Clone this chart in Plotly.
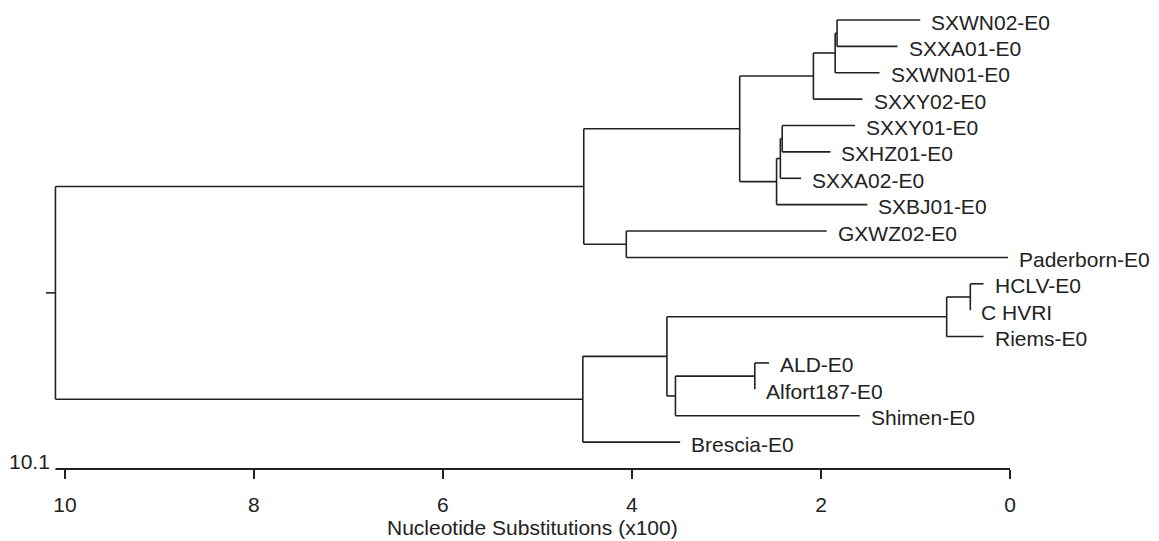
import plotly.graph_objects as go

# ---------------- data ----------------
leaf_names = ["SXWN02-E0", "SXXA01-E0", "SXWN01-E0", "SXXY02-E0", "SXXY01-E0",
              "SXHZ01-E0", "SXXA02-E0", "SXBJ01-E0", "GXWZ02-E0", "Paderborn-E0",
              "HCLV-E0", "C HVRI", "Riems-E0", "ALD-E0", "Alfort187-E0",
              "Shimen-E0", "Brescia-E0"]
leaf_x = [0.95, 1.19, 1.38, 1.56, 1.64, 1.90, 2.21, 1.51, 1.94, 0.02,
          0.28, 0.42, 0.28, 2.55, 2.70, 1.59, 3.49]

node_names = ["n1", "n2", "n3", "n4", "n5", "n6", "n7", "n8", "n9",
              "n10", "n11", "n12", "n13", "n14", "n15", "root"]
node_children = [
    ("SXWN02-E0", "SXXA01-E0"),
    ("n1", "SXWN01-E0"),
    ("n2", "SXXY02-E0"),
    ("SXXY01-E0", "SXHZ01-E0"),
    ("n4", "SXXA02-E0"),
    ("n5", "SXBJ01-E0"),
    ("n3", "n6"),
    ("GXWZ02-E0", "Paderborn-E0"),
    ("n7", "n8"),
    ("HCLV-E0", "C HVRI"),
    ("n10", "Riems-E0"),
    ("ALD-E0", "Alfort187-E0"),
    ("n12", "Shimen-E0"),
    ("n11", "n13"),
    ("n14", "Brescia-E0"),
    ("n9", "n15"),
]
node_x = [1.83, 1.85, 2.08, 2.41, 2.43, 2.47, 2.86, 4.06, 4.51,
          0.42, 0.67, 2.70, 3.54, 3.63, 4.52, 10.1]
root_stub_x = 10.2

tick_vals = [10, 8, 6, 4, 2, 0]
tick_text = ["10", "8", "6", "4", "2", "0"]
axis_max_label = "10.1"
axis_max = 10.1
x_title = "Nucleotide Substitutions (x100)"

# ---------------- geometry ----------------
pos = {}
for i, (n, x) in enumerate(zip(leaf_names, leaf_x)):
    pos[n] = (x, float(i))
for n, ch, x in zip(node_names, node_children, node_x):
    ys = [pos[c][1] for c in ch]
    pos[n] = (x, sum(ys) / len(ys))

lx, ly = [], []
for n, ch in zip(node_names, node_children):
    nx, ny = pos[n]
    ys = [pos[c][1] for c in ch]
    lx += [nx, nx, None]
    ly += [min(ys), max(ys), None]
    for c in ch:
        cx, cy = pos[c]
        lx += [nx, cx, None]
        ly += [cy, cy, None]
rx, ry = pos["root"]
lx += [rx, root_stub_x, None]
ly += [ry, ry, None]

LINE = "#222222"
FONT = dict(family="Arial, Liberation Sans, sans-serif", size=21, color="#222222")

fig = go.Figure()
fig.add_trace(go.Scatter(x=lx, y=ly, mode="lines",
                         line=dict(color=LINE, width=1.6),
                         hoverinfo="skip", showlegend=False))

annotations = []
for n, x in zip(leaf_names, leaf_x):
    annotations.append(dict(x=x, y=pos[n][1], xref="x", yref="y", text=n,
                            showarrow=False, xanchor="left", yanchor="middle",
                            xshift=9, yshift=-2, font=FONT))
annotations.append(dict(x=axis_max, y=0, xref="x", yref="paper", text=axis_max_label,
                        showarrow=False, xanchor="right", yanchor="middle",
                        xshift=-3, yshift=8, font=FONT))
annotations.append(dict(x=5.05, y=0, xref="x", yref="paper", text=x_title,
                        showarrow=False, xanchor="center", yanchor="middle",
                        yshift=-58, font=FONT))

# the page body adds an 8 px margin, so the figure is drawn slightly smaller
fig.update_layout(
    width=1151, height=533,
    margin=dict(l=38, r=149, t=0, b=72),
    paper_bgcolor="white", plot_bgcolor="white",
    showlegend=False,
    annotations=annotations,
    shapes=[dict(type="line", xref="x", yref="paper", x0=axis_max, x1=0, y0=0, y1=0,
                 line=dict(color=LINE, width=2))],
    xaxis=dict(range=[root_stub_x, 0], showgrid=False, zeroline=False, showline=False,
               ticks="outside", ticklen=9, tickwidth=1.5, tickcolor=LINE,
               tickvals=tick_vals, ticktext=tick_text, tickfont=FONT,
               ticklabelstandoff=8),
    yaxis=dict(range=[17.02, -0.455], visible=False),
)

fig.write_html("out.html")
